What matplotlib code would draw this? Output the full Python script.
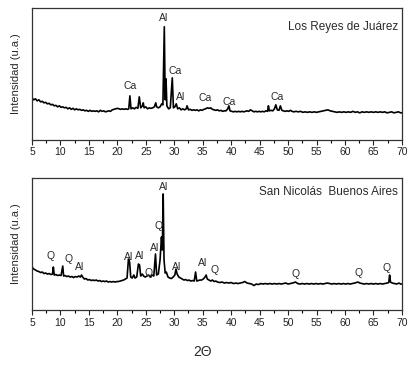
import matplotlib.pyplot as plt
from matplotlib.ticker import MultipleLocator

plt.rcParams['font.family'] = ['Liberation Sans', 'DejaVu Sans']

# --- Los Reyes de Juárez pattern (2theta, intensity a.u.)
two_theta_top = [
    5.0, 5.3, 5.6, 5.9, 6.2, 6.5, 6.8, 7.1, 7.4, 7.7, 8.0, 8.3, 8.6, 8.9, 9.2, 9.5, 9.8,
    10.1, 10.4, 10.7, 11.0, 11.3, 11.6, 11.9, 12.2, 12.5, 12.8, 13.1, 13.4, 13.7, 14.0,
    14.3, 14.6, 14.9, 15.2, 15.5, 15.8, 16.1, 16.4, 16.7, 17.0, 17.3, 17.6, 17.9, 18.2,
    18.5, 18.8, 19.1, 19.4, 19.7, 20.0, 20.3, 20.6, 20.9, 21.2, 21.5, 21.8, 22.0, 22.2,
    22.4, 22.7, 23.0, 23.3, 23.6, 23.85, 24.1, 24.4, 24.55, 24.7, 25.0, 25.3, 25.6, 25.9,
    26.2, 26.5, 26.75, 26.9, 27.2, 27.5, 27.8, 28.0, 28.25, 28.4, 28.55, 28.7, 29.0, 29.3,
    29.65, 29.85, 30.1, 30.35, 30.6, 30.9, 31.2, 31.5, 31.8, 32.1, 32.25, 32.5, 32.8, 33.1,
    33.4, 33.7, 34.0, 34.3, 34.6, 34.9, 35.2, 35.5, 35.8, 36.1, 36.4, 36.7, 37.0, 37.3,
    37.6, 37.9, 38.2, 38.5, 38.8, 39.1, 39.4, 39.6, 39.8, 40.1, 40.4, 40.7, 41.0, 41.3,
    41.6, 41.9, 42.2, 42.5, 42.8, 43.1, 43.4, 43.7, 44.0, 44.3, 44.6, 44.9, 45.2, 45.5,
    45.8, 46.1, 46.4, 46.55, 46.7, 47.0, 47.3, 47.6, 47.85, 48.1, 48.4, 48.65, 48.9, 49.2,
    49.5, 49.8, 50.1, 50.4, 50.7, 51.0, 51.4, 51.8, 52.2, 52.6, 53.0, 53.4, 53.8, 54.2,
    54.6, 55.0, 55.4, 55.8, 56.2, 56.6, 57.0, 57.4, 57.8, 58.2, 58.6, 59.0, 59.4, 59.8,
    60.2, 60.6, 61.0, 61.4, 61.8, 62.2, 62.6, 63.0, 63.4, 63.8, 64.2, 64.6, 65.0, 65.4,
    65.8, 66.2, 66.6, 67.0, 67.4, 67.8, 68.2, 68.6, 69.0, 69.4, 69.8, 70.0,
]
intensity_top = [
    42, 40, 41, 39, 40, 38, 38.5, 37, 37.5, 36, 36.5, 35, 35.5, 34, 34.5, 33, 34,
    32.5, 33, 32, 32.5, 31, 32, 30.5, 31.5, 30, 31, 30, 30.5, 29.5, 30,
    29, 29.5, 28.5, 29.5, 28.5, 29, 28.5, 29, 28, 29.5, 28.5, 29, 28, 28.5,
    29, 28.5, 30, 30.5, 31, 31.5, 31, 30.5, 31, 30.5, 31, 30.5, 31, 44,
    31, 32, 31, 32.5, 31.5, 43, 32, 34, 37, 32, 33, 31, 32, 31.5,
    32, 33, 37, 33, 32, 33, 36, 35, 113, 40, 61, 34, 31, 32,
    62, 32, 33, 36, 31, 32, 30, 31, 30, 31, 34, 30, 30.5, 29.5,
    30, 29.5, 30, 29, 30, 29.5, 30.5, 31, 32, 31.5, 32, 30.5, 30, 29.5,
    30, 29, 29.5, 28.5, 29, 29, 31, 34, 29, 28.5, 28, 28.5, 28, 28.5,
    28, 28.5, 28, 28.5, 29, 28.5, 30, 29, 28, 28.5, 28, 28.5, 28, 28.5,
    28, 29, 28.5, 34, 29, 29.5, 29, 31, 35, 30, 29.5, 34, 29.5, 29,
    28.5, 29, 28.5, 29.5, 28.5, 28, 28.5, 28, 28.5, 27.5, 28, 27.5, 28, 27.5,
    28, 27.5, 28, 28.5, 29, 29.5, 30, 29, 28.5, 28, 27.5, 28, 27.5, 28,
    27.5, 28, 27.5, 28.5, 27.5, 28, 27, 28, 27.5, 28, 27.5, 28, 27.5, 28,
    27.5, 28, 27.5, 28, 27, 27.5, 28, 27, 27.5, 28, 27, 27,
]

# --- San Nicolás Buenos Aires pattern
two_theta_bot = [
    5.0, 5.3, 5.6, 5.9, 6.2, 6.5, 6.8, 7.1, 7.4, 7.7, 8.0, 8.3, 8.6, 8.75, 8.9, 9.2, 9.5,
    9.8, 10.1, 10.4, 10.55, 10.8, 11.1, 11.4, 11.7, 12.0, 12.3, 12.6, 12.9, 13.2, 13.5,
    13.7, 13.9, 14.2, 14.5, 14.8, 15.1, 15.4, 15.7, 16.0, 16.3, 16.6, 16.9, 17.2, 17.5,
    17.8, 18.1, 18.4, 18.7, 19.0, 19.3, 19.6, 19.9, 20.2, 20.5, 20.8, 21.1, 21.4, 21.7,
    21.95, 22.15, 22.35, 22.6, 22.9, 23.1, 23.4, 23.7, 23.9, 24.1, 24.4, 24.6, 24.9, 25.2,
    25.5, 25.8, 26.1, 26.4, 26.7, 26.9, 27.2, 27.5, 27.75, 27.9, 28.05, 28.2, 28.4, 28.6,
    28.9, 29.2, 29.5, 29.8, 30.1, 30.3, 30.5, 30.8, 31.1, 31.4, 31.7, 32.0, 32.3, 32.6,
    32.9, 33.2, 33.5, 33.75, 33.95, 34.2, 34.5, 34.8, 35.1, 35.4, 35.6, 35.8, 36.1, 36.4,
    36.7, 37.0, 37.3, 37.6, 38.0, 38.4, 38.8, 39.2, 39.6, 40.0, 40.4, 40.8, 41.2, 41.6,
    42.0, 42.4, 42.8, 43.2, 43.6, 44.0, 44.4, 44.8, 45.2, 45.6, 46.0, 46.4, 46.8, 47.2,
    47.6, 48.0, 48.4, 48.8, 49.2, 49.6, 50.0, 50.4, 50.8, 51.3, 51.7, 52.1, 52.5, 52.9,
    53.3, 53.7, 54.1, 54.5, 54.9, 55.3, 55.7, 56.1, 56.5, 56.9, 57.3, 57.7, 58.1, 58.5,
    58.9, 59.3, 59.7, 60.1, 60.5, 60.9, 61.3, 61.7, 62.0, 62.3, 62.6, 63.0, 63.4, 63.8,
    64.2, 64.6, 65.0, 65.4, 65.8, 66.2, 66.6, 67.0, 67.4, 67.7, 67.85, 68.0, 68.3, 68.7,
    69.1, 69.5, 69.8, 70.0,
]
intensity_bot = [
    43, 41, 40, 39, 38.5, 37.5, 38, 36.5, 37, 36, 36.5, 35.5, 36, 43, 35, 35.5, 34.5,
    35, 34.5, 44, 34, 34.5, 33.5, 34, 33, 33.5, 32.5, 33.5, 33, 34, 33,
    35, 33, 31, 31.5, 30, 30.5, 29.5, 30, 29.5, 30, 29, 29.5, 28.5, 29,
    28.5, 29, 28, 28.5, 28, 28.5, 28, 28.5, 28.5, 29, 29.5, 30, 31, 32,
    51, 48, 33, 32, 35, 32, 33, 46, 45, 34, 36, 34, 33, 34,
    35, 33, 35, 34, 56, 35, 36, 50, 73, 60, 116, 50, 37, 38,
    33, 32, 31.5, 33, 35, 41, 36, 33, 32, 31, 30, 30.5, 29.5, 30,
    29, 29.5, 29, 38, 29, 29.5, 30, 30, 31, 33, 35, 31, 30, 29,
    30, 28.5, 29, 28, 27.5, 28, 27, 27.5, 27, 27.5, 26.5, 27, 26.5, 27,
    27.5, 28.5, 27, 26.5, 26, 24.5, 26, 25.5, 26.5, 26, 26.5, 26, 26.5, 26,
    26.5, 26, 26.5, 26, 26.5, 27, 26, 26.5, 27, 28, 26.5, 26, 26.5, 26,
    26.5, 26, 26.5, 26, 26.5, 26, 26.5, 26, 26.5, 27, 26.5, 26, 26.5, 26,
    26.5, 26, 26.5, 26, 26.5, 26, 26.5, 27, 27.5, 28, 27, 26.5, 26, 26.5,
    26, 26.5, 26, 26.5, 26, 26.5, 26, 26.5, 27, 27.5, 35, 28, 27, 26.5,
    26, 27, 26, 26,
]

# peak labels: (text, 2theta, intensity)
labels_top = [('Al', 28.1, 122), ('Ca', 30.1, 69), ('Ca', 22.3, 53.7), ('Al', 31.1, 43.3),
              ('Ca', 35.5, 42), ('Ca', 39.6, 38), ('Ca', 48.1, 43.3)]
labels_bot = [('Al', 28.1, 123), ('Q', 27.2, 84), ('Al', 26.5, 61.7), ('Al', 21.9, 52.7),
              ('Al', 23.9, 54), ('Q', 8.3, 54.3), ('Q', 11.45, 50.7), ('Al', 13.4, 43.3),
              ('Q', 25.5, 36.7), ('Al', 30.45, 43.3), ('Al', 35.0, 46.7), ('Q', 37.05, 40),
              ('Q', 51.25, 35.7), ('Q', 62.4, 36.7), ('Q', 67.35, 42.3)]

titles = ['Los Reyes de Juárez', 'San Nicolás  Buenos Aires']
title_y = [0.858, 0.896]

fig = plt.figure(figsize=(4.16, 3.70), dpi=100)
ax_top = fig.add_axes([0.077, 0.622, 0.889, 0.357])
ax_bot = fig.add_axes([0.077, 0.162, 0.889, 0.357])

text_col = '#2a2a2a'
panels = [(ax_top, two_theta_top, intensity_top, labels_top),
          (ax_bot, two_theta_bot, intensity_bot, labels_bot)]
for i, (ax, x, y, labs) in enumerate(panels):
    ax.plot(x, y, color='black', linewidth=1.2)
    for txt, lx, ly in labs:
        ax.text(lx, ly, txt, fontsize=7.5, color=text_col, ha='center', va='center')
    ax.text(0.99, title_y[i], titles[i], transform=ax.transAxes, fontsize=8.5,
            color=text_col, ha='right', va='center')
    ax.set_xlim(5, 70)
    ax.set_ylim(0, 132)
    ax.set_yticks([])
    ax.xaxis.set_major_locator(MultipleLocator(5))
    ax.xaxis.set_minor_locator(MultipleLocator(2.5))
    ax.tick_params(axis='x', which='major', direction='out', length=3.5, width=0.8,
                   labelsize=7.5, pad=2, colors='#222222')
    ax.tick_params(axis='x', which='minor', direction='out', length=2, width=0.8)
    for sp in ax.spines.values():
        sp.set_linewidth(0.9)
        sp.set_color('#333333')
    ax.set_ylabel('Intensidad (u.a.)', fontsize=8, color=text_col, labelpad=8)

fig.text(203 / 416, 1 - 352 / 370, '2Θ', fontsize=10, color=text_col, ha='center', va='center')

fig.savefig('out.png', dpi=100)
